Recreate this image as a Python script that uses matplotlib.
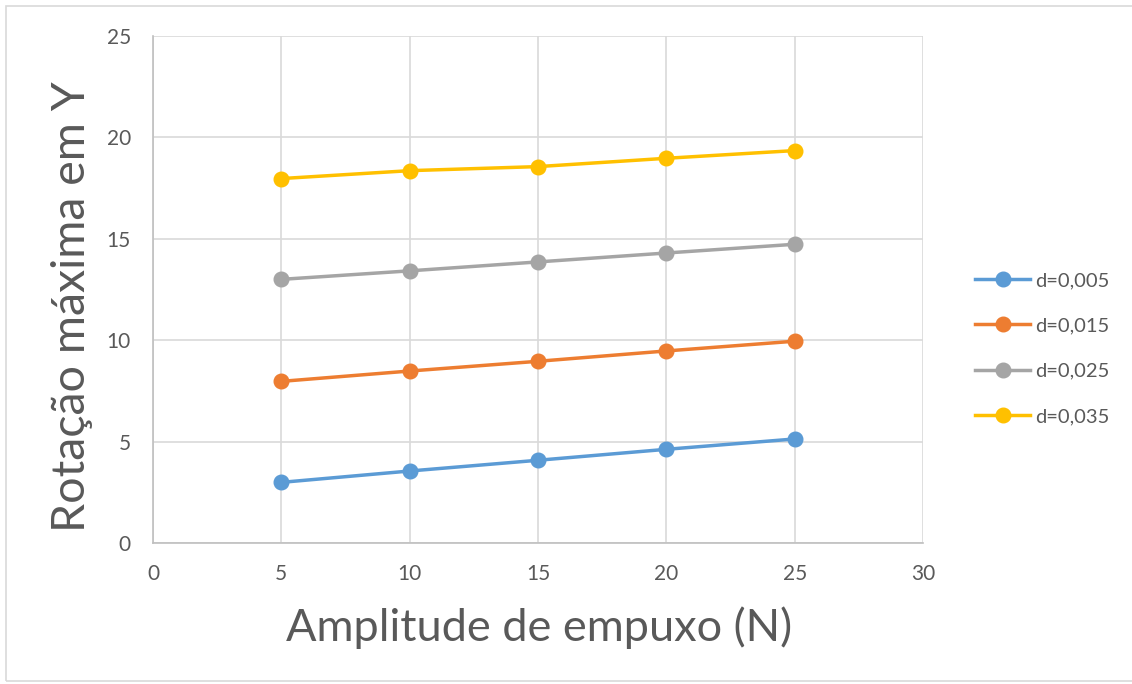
import matplotlib
matplotlib.use("Agg")
import matplotlib.pyplot as plt
from matplotlib.patches import Rectangle

plt.rcParams['font.family'] = ['Lato', 'DejaVu Sans']

# Thrust amplitude (N)
amplitude = [5, 10, 15, 20, 25]

# Maximum rotation about Y for each d value
rot_d005 = [2.99, 3.55, 4.08, 4.62, 5.13]
rot_d015 = [7.97, 8.48, 8.96, 9.47, 9.95]
rot_d025 = [13.0, 13.42, 13.86, 14.30, 14.73]
rot_d035 = [17.97, 18.36, 18.56, 18.97, 19.35]

series_labels = ["d=0,005", "d=0,015", "d=0,025", "d=0,035"]
series_colors = ["#5b9bd5", "#ed7d31", "#a5a5a5", "#ffc000"]

x_ticks = [0, 5, 10, 15, 20, 25, 30]
y_ticks = [0, 5, 10, 15, 20, 25]

text_color = "#595959"
grid_color = "#d9d9d9"

fig = plt.figure(figsize=(11.32, 6.84), dpi=100)
fig.patch.set_facecolor("white")

# Outer chart border
fig.patches.append(Rectangle((6 / 1132, 0.005), 1.0, 1 - 6 / 684 - 0.005,
                             transform=fig.transFigure, fill=False,
                             edgecolor="#d9d9d9", linewidth=1.2))

ax = fig.add_axes([153 / 1132, 1 - 543 / 684, (923 - 153) / 1132, (543 - 36) / 684])

for vals, lab, col in zip([rot_d005, rot_d015, rot_d025, rot_d035],
                          series_labels, series_colors):
    ax.plot(amplitude, vals, color=col, linewidth=2.5, marker="o",
            markersize=10.5, label=lab, zorder=3, clip_on=False)

ax.set_xlim(0, 30)
ax.set_ylim(0, 25)
ax.set_xticks(x_ticks)
ax.set_yticks(y_ticks)
ax.grid(True, color=grid_color, linewidth=1.2, zorder=0)
ax.set_axisbelow(True)

for side in ["top", "right"]:
    ax.spines[side].set_visible(False)
for side in ["left", "bottom"]:
    ax.spines[side].set_color("#bfbfbf")
    ax.spines[side].set_linewidth(1.2)

ax.tick_params(axis="both", length=0, labelsize=15, labelcolor=text_color)
ax.tick_params(axis="y", pad=16)
ax.tick_params(axis="x", pad=15)

fig.text(539 / 1132, 1 - 628 / 684, "Amplitude de empuxo (N)", ha="center",
         va="center", fontsize=32.5, color=text_color)
fig.text(72 / 1132, 1 - 307 / 684, "Rotação máxima em Y", ha="center",
         va="center", rotation=90, fontsize=33.5, color=text_color)

leg = ax.legend(loc="upper left", bbox_to_anchor=(967 / 1132, 1 - 264 / 684),
                bbox_transform=fig.transFigure, frameon=False, fontsize=14.5,
                handlelength=2.75, handletextpad=0.25, labelspacing=1.4,
                borderaxespad=0)
for t in leg.get_texts():
    t.set_color(text_color)

fig.savefig("out.png", dpi=100)
